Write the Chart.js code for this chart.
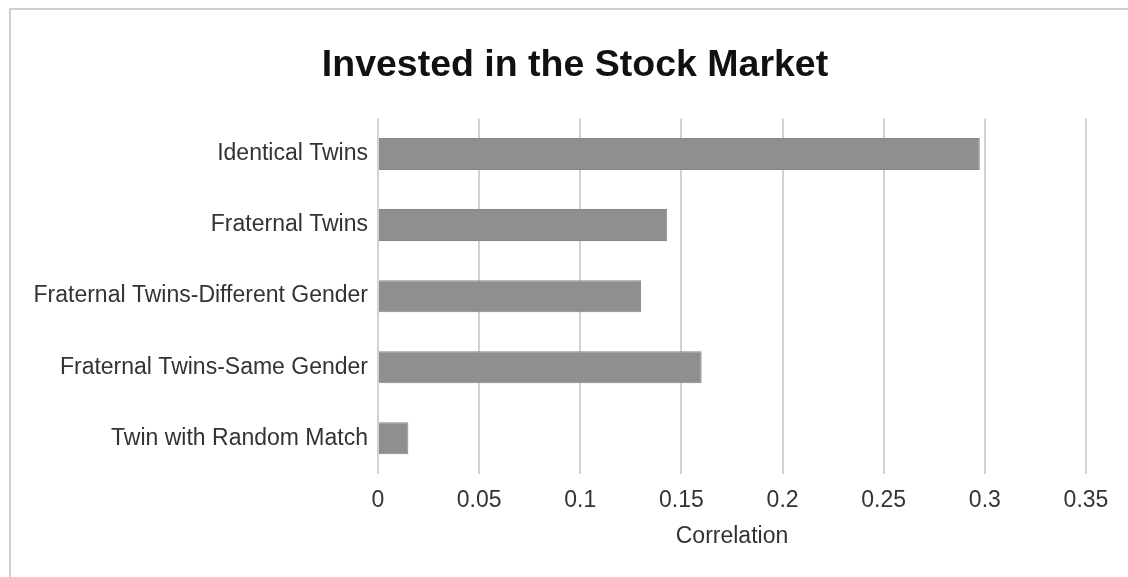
<!DOCTYPE html>
<html>
<head>
<meta charset="utf-8">
<script src="https://cdn.jsdelivr.net/npm/chart.js@4"></script>
<style>
    body { margin: 0; background: #ffffff; }
    #frame { position: absolute; left: 9px; top: 8px; width: 1130px; height: 600px; border: 2px solid #cfcfcf; }
    #wrap { position: absolute; left: 0; top: 0; width: 1128px; height: 577px; }
</style>
</head>
<body>
<div id="frame"></div>
<div id="wrap"><canvas id="chart"></canvas></div>
<script>
// Chart data
var categories = ["Identical Twins", "Fraternal Twins", "Fraternal Twins-Different Gender",
    "Fraternal Twins-Same Gender", "Twin with Random Match"];
var correlations = [0.2975, 0.143, 0.13, 0.16, 0.015];
var tickValues = [0, 0.05, 0.1, 0.15, 0.2, 0.25, 0.3, 0.35];
var chartTitle = 'Invested in the Stock Market';

var titleFont = { family: 'Liberation Sans', size: 37.5, weight: 'bold' };

// The built-in title only reserves the space; this draws the text a bit right of centre
var titlePlugin = {
    id: 'shiftedTitle',
    afterDraw: function(chart) {
        var block = chart.titleBlock;
        var c = chart.ctx;
        c.save();
        c.font = 'bold 37.5px "Liberation Sans"';
        c.fillStyle = '#111111';
        c.textAlign = 'center';
        c.textBaseline = 'middle';
        c.fillText(chartTitle, chart.width / 2 + 11, block.top + 10 + 22.5);
        c.restore();
    }
};

var ctx = document.getElementById("chart").getContext("2d");

const stockChart = new Chart(ctx, {
    type: 'bar',
    data: {
        labels: categories,
        datasets: [
            {
                label: 'Correlation',
                data: correlations,
                backgroundColor: '#8f8f8f',
                borderColor: '#878787',
                borderWidth: 1,
                barPercentage: 0.9,
                categoryPercentage: 0.5
            }
        ]
    },
    plugins: [titlePlugin],
    options: {
        indexAxis: 'y',
        responsive: true,
        maintainAspectRatio: false,
        animation: false,
        layout: {
            padding: { left: 0, right: 42, top: 33, bottom: 27 }
        },
        plugins: {
            legend: { display: false },
            tooltip: { enabled: false },
            title: {
                display: true,
                text: chartTitle,
                color: 'rgba(0,0,0,0)',
                font: titleFont,
                padding: { top: 10, bottom: 30.5 }
            }
        },
        scales: {
            x: {
                min: 0,
                max: 0.35,
                afterBuildTicks: function(scale) {
                    scale.ticks = tickValues.map(v => ({ value: v }));
                },
                ticks: {
                    color: '#333333',
                    font: { family: 'Liberation Sans', size: 23 },
                    padding: 13,
                    callback: function(value) {
                        return String(Math.round(value * 100) / 100);
                    }
                },
                grid: { color: '#d2d2d2', lineWidth: 2, drawTicks: false },
                border: { display: false },
                title: {
                    display: true,
                    text: 'Correlation',
                    color: '#333333',
                    font: { family: 'Liberation Sans', size: 23 },
                    padding: { top: -5, bottom: 0 }
                }
            },
            y: {
                afterFit: function(scale) {
                    scale.width = 378;
                },
                ticks: {
                    color: '#333333',
                    font: { family: 'Liberation Sans', size: 23 },
                    padding: 10
                },
                grid: { display: false, drawTicks: false },
                border: { display: false }
            }
        }
    }
});
</script>
</body>
</html>
